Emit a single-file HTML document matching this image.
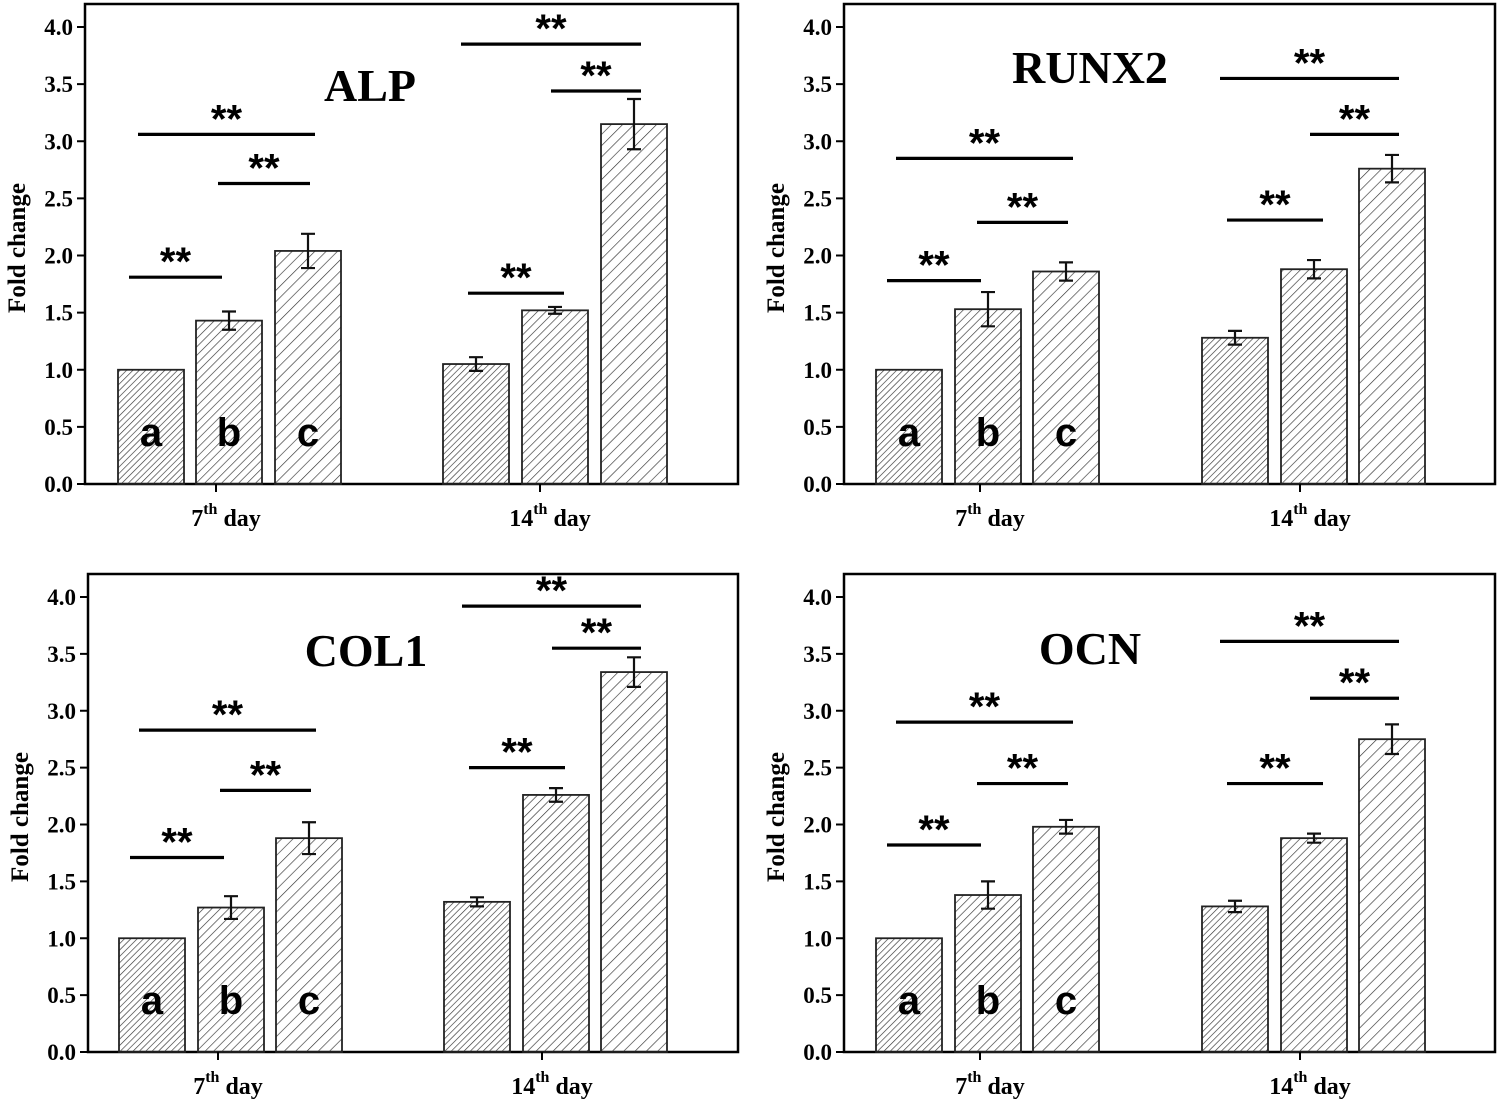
<!DOCTYPE html>
<html><head><meta charset="utf-8"><style>
html,body{margin:0;padding:0;background:#fff;}
svg{display:block;}
</style></head><body>
<svg id="fig" width="1500" height="1103" viewBox="0 0 1500 1103" xmlns="http://www.w3.org/2000/svg">
<defs>
<pattern id="h0" patternUnits="userSpaceOnUse" width="4.5" height="4.5" patternTransform="rotate(45)"><line x1="0" y1="0" x2="0" y2="4.5" stroke="#333" stroke-width="1.3"/></pattern>
<pattern id="h1" patternUnits="userSpaceOnUse" width="6" height="6" patternTransform="rotate(45)"><line x1="0" y1="0" x2="0" y2="6" stroke="#333" stroke-width="1.3"/></pattern>
<pattern id="h2" patternUnits="userSpaceOnUse" width="8" height="8" patternTransform="rotate(45)"><line x1="0" y1="0" x2="0" y2="8" stroke="#333" stroke-width="1.3"/></pattern>
</defs>
</svg>
<script>
const titles=["ALP","RUNX2","COL1","OCN"];
const groupLabels=["7","14"];
const barLetters=["a","b","c"];
const yTicks=[0,0.5,1.0,1.5,2.0,2.5,3.0,3.5,4.0];
const alpVals=[1.0,1.43,2.04,1.05,1.52,3.15];
const alpErr=[0,0.08,0.15,0.06,0.03,0.22];
const runxVals=[1.0,1.53,1.86,1.28,1.88,2.76];
const runxErr=[0,0.15,0.08,0.06,0.08,0.12];
const colVals=[1.0,1.27,1.88,1.32,2.26,3.34];
const colErr=[0,0.10,0.14,0.04,0.06,0.13];
const ocnVals=[1.0,1.38,1.98,1.28,1.88,2.75];
const ocnErr=[0,0.12,0.06,0.05,0.04,0.13];
const alpSig=[1.81,2.63,3.06,1.67,3.44,3.85];
const runxSig=[1.78,2.29,2.85,2.31,3.06,3.55];
const colSig=[1.71,2.30,2.83,2.50,3.55,3.92];
const ocnSig=[1.82,2.36,2.90,2.36,3.11,3.61];
const allVals=[alpVals,runxVals,colVals,ocnVals];
const allErr=[alpErr,runxErr,colErr,ocnErr];
const allSig=[alpSig,runxSig,colSig,ocnSig];

const NS="http://www.w3.org/2000/svg";
const svg=document.getElementById('fig');
function mk(tag,attrs,parent,text){const e=document.createElementNS(NS,tag);for(const k in attrs)e.setAttribute(k,attrs[k]);if(text!==undefined)e.textContent=text;(parent||svg).appendChild(e);return e;}
const panels=[
 {L:85,R:738,T:4,B:484,top4:27,barX:[118,196,275,443,522,601],tx:[370,85],g:[216,540]},
 {L:844,R:1495,T:4,B:484,top4:27,barX:[876,955,1033,1202,1281,1359],tx:[1090,67],g:[980,1300]},
 {L:88,R:738,T:574,B:1052,top4:597,barX:[119,198,276,444,523,601],tx:[366,650],g:[218,542]},
 {L:844,R:1495,T:574,B:1052,top4:597,barX:[876,955,1033,1202,1281,1359],tx:[1090,648],g:[980,1300]}
];
const sigSpan=[[0,-22,1,-7],[1,-11,2,2],[0,-13,2,7],[3,-8,4,9],[4,-4,5,7],[3,-15,5,7]];
const BW=66;
panels.forEach((p,pi)=>{
  const g=mk('g',{});
  
  
  const sc=(p.B-p.top4)/4;
  const y=v=>p.B-v*sc;
  const frame=mk('rect',{x:p.L,y:p.T,width:p.R-p.L,height:p.B-p.T,fill:'none',stroke:'#000','stroke-width':2.5},g);
  
  
  yTicks.forEach(t=>{
    const ty=y(t);
    const tl=mk('line',{x1:p.L-8,x2:p.L,y1:ty,y2:ty,stroke:'#000','stroke-width':2},g);
    
    
    const lab=mk('text',{x:p.L-12,y:ty+8,'text-anchor':'end','font-family':'Liberation Serif, serif','font-weight':'bold','font-size':23},g,t.toFixed(1));
    
    
  });
  const yt=mk('text',{x:0,y:0,transform:`translate(${p.L-60},${(p.T+p.B)/2+4}) rotate(-90)`,'text-anchor':'middle','font-family':'Liberation Serif, serif','font-weight':'bold','font-size':25},g,'Fold change');
  
  
  const ti=mk('text',{x:p.tx[0],y:p.tx[1]+16,'text-anchor':'middle','font-family':'Liberation Serif, serif','font-weight':'bold','font-size':46},g,titles[pi]);
  
  
  const vals=allVals[pi],errs=allErr[pi],sig=allSig[pi];
  vals.forEach((v,i)=>{
    const x=p.barX[i];
    const r=mk('rect',{x:x,y:y(v),width:BW,height:p.B-y(v),fill:'url(#h'+(i%3)+')',stroke:'#222','stroke-width':1.8},g);
    
    
    if(errs[i]>0){
      const cx=x+BW/2;
      const eb=mk('path',{d:`M${cx},${y(v+errs[i])}V${y(v-errs[i])}M${cx-7},${y(v+errs[i])}H${cx+7}M${cx-7},${y(v-errs[i])}H${cx+7}`,stroke:'#111','stroke-width':2.2,fill:'none'},g);
      
      
    }
  });
  for(let i=0;i<3;i++){
    const lt=mk('text',{x:p.barX[i]+BW/2,y:p.B-38,'text-anchor':'middle','font-family':'Liberation Sans, sans-serif','font-weight':'bold','font-size':40},g,barLetters[i]);
    
    
  }
  sig.forEach((s,k)=>{
    const sp=sigSpan[k];
    const x1=p.barX[sp[0]]+BW/2+sp[1], x2=p.barX[sp[2]]+BW/2+sp[3];
    const sl=mk('line',{x1:x1,x2:x2,y1:y(s),y2:y(s),stroke:'#000','stroke-width':3.2},g);
    
    
    const st=mk('text',{x:(x1+x2)/2,y:y(s)-2,'text-anchor':'middle','font-family':'Liberation Sans, sans-serif','font-weight':'bold','font-size':40},g,'**');
    
    
  });
  groupLabels.forEach((gl,j)=>{
    const gx=p.g[j];
    const xt=mk('line',{x1:gx,x2:gx,y1:p.B,y2:p.B+8,stroke:'#000','stroke-width':2},g);
    
    
    const xl=mk('text',{x:gx+10,y:p.B+42,'text-anchor':'middle','font-family':'Liberation Serif, serif','font-weight':'bold','font-size':24},g);
    
    
    mk('tspan',{},xl,gl);
    mk('tspan',{dy:-12,'font-size':16},xl,'th');
    mk('tspan',{dy:12},xl,' day');
  });
});
</script>
</body></html>
